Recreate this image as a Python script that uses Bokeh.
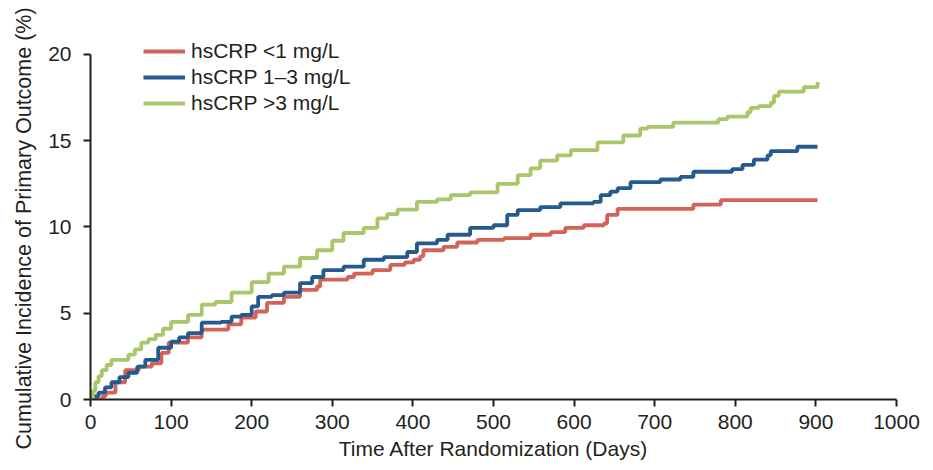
from bokeh.plotting import figure
from bokeh.models import Range1d, Legend, LegendItem, FixedTicker, Title
from bokeh.embed import file_html
from bokeh.resources import INLINE

# ---- data ----
series_names = ["hsCRP <1 mg/L", "hsCRP 1\u20133 mg/L", "hsCRP >3 mg/L"]

low_t = [0, 15, 19, 31, 43, 60, 76, 88, 97, 121, 138, 171, 187, 205, 219, 240, 260, 281, 285, 319,
         327, 350, 372, 390, 401, 409, 413, 438, 455, 480, 513, 546, 571, 589, 612, 637, 641, 654,
         748, 782, 902]
low_v = [0, 0.2, 0.4, 1.0, 1.7, 1.9, 2.1, 2.7, 3.3, 3.6, 4.05, 4.35, 4.75, 5.1, 5.6, 5.95, 6.35,
         6.55, 6.95, 7.1, 7.3, 7.5, 7.8, 7.95, 8.1, 8.3, 8.65, 8.85, 9.1, 9.25, 9.35, 9.55, 9.7,
         9.95, 10.1, 10.2, 10.7, 11.05, 11.3, 11.55, 11.55]

mid_t = [0, 4, 10, 18, 26, 36, 47, 58, 68, 84, 100, 110, 121, 138, 162, 175, 187, 200, 208, 225,
         240, 260, 275, 289, 314, 339, 364, 393, 405, 430, 443, 471, 500, 517, 530, 558, 583, 624,
         633, 645, 654, 670, 707, 732, 748, 796, 809, 823, 840, 844, 877, 902]
mid_v = [0, 0.2, 0.4, 0.7, 1.0, 1.3, 1.55, 1.9, 2.3, 3.0, 3.35, 3.6, 3.85, 4.45, 4.5, 4.8, 4.9,
         5.4, 5.95, 6.05, 6.2, 6.75, 7.1, 7.5, 7.7, 8.1, 8.25, 8.55, 9.05, 9.25, 9.55, 9.95, 10.1,
         10.7, 10.98, 11.15, 11.37, 11.45, 11.85, 12.05, 12.25, 12.6, 12.75, 12.9, 13.2, 13.35,
         13.6, 13.9, 14.15, 14.4, 14.65, 14.65]

high_t = [0, 3, 6, 10, 14, 20, 26, 47, 55, 63, 72, 81, 90, 100, 121, 138, 155, 175, 200, 221, 240,
          260, 281, 300, 314, 339, 356, 368, 381, 405, 430, 447, 471, 505, 530, 546, 558, 579, 596,
          629, 661, 682, 691, 723, 779, 790, 815, 819, 829, 844, 848, 854, 885, 902]
high_v = [0, 0.5, 1.0, 1.35, 1.7, 2.0, 2.3, 2.6, 2.9, 3.3, 3.5, 3.75, 4.1, 4.5, 4.9, 5.5, 5.65,
          6.2, 6.8, 7.3, 7.7, 8.2, 8.65, 9.2, 9.65, 9.95, 10.5, 10.75, 11.0, 11.45, 11.6, 11.85,
          12.0, 12.5, 13.0, 13.4, 13.85, 14.15, 14.45, 14.9, 15.3, 15.7, 15.8, 16.05, 16.25, 16.4,
          16.65, 16.9, 17.0, 17.2, 17.6, 17.85, 18.1, 18.4]

x_ticks = [0, 100, 200, 300, 400, 500, 600, 700, 800, 900, 1000]
y_ticks = [0, 5, 10, 15, 20]

x_title = "Time After Randomization (Days)"
y_title = "Cumulative Incidence of Primary Outcome (%)"

colors = ["#d3635a", "#245a8e", "#a9c66a"]

FONT = "Liberation Sans"
TXT = "#231f20"

p = figure(width=925, height=462, output_backend="svg", toolbar_location=None,
           x_range=Range1d(0, 1000), y_range=Range1d(0, 21.387),
           min_border_left=90, min_border_right=29, min_border_top=30, min_border_bottom=62)
p.outline_line_color = None
p.xgrid.visible = False
p.ygrid.visible = False

renderers = []
for t, v, c in zip([low_t, mid_t, high_t], [low_v, mid_v, high_v], colors):
    r = p.step(x=t, y=v, mode="after", line_color=c, line_width=3.8)
    renderers.append(r)

for ax, ticks in ((p.xaxis[0], x_ticks), (p.yaxis[0], y_ticks)):
    ax.ticker = FixedTicker(ticks=ticks)
    ax.axis_line_width = 2
    ax.axis_line_color = TXT
    ax.major_tick_line_width = 2
    ax.major_tick_line_color = TXT
    ax.major_tick_out = 7
    ax.major_tick_in = 0
    ax.minor_tick_line_color = None
    ax.major_label_text_font = FONT
    ax.major_label_text_font_size = "21px"
    ax.major_label_text_color = TXT
    ax.axis_label_text_font = FONT
    ax.axis_label_text_font_size = "21px"
    ax.axis_label_text_font_style = "normal"
    ax.axis_label_text_color = TXT

p.yaxis[0].bounds = (0, 20)
p.xaxis[0].axis_label = x_title
p.xaxis[0].major_label_standoff = 8
p.xaxis[0].axis_label_standoff = 5
p.yaxis[0].major_label_standoff = 12

ytitle = Title(text=y_title, align="left", offset=-50, standoff=19,
               text_font=FONT, text_font_size="21.5px", text_font_style="normal",
               text_color=TXT)
p.add_layout(ytitle, "left")

items = [LegendItem(label=n, renderers=[r]) for n, r in zip(series_names, renderers)]
legend = Legend(items=items, location=(53, 284), padding=0, margin=0, spacing=2,
                glyph_width=42, glyph_height=20, label_height=20, label_standoff=6,
                label_text_font=FONT, label_text_font_size="21px", label_text_color=TXT,
                border_line_color=None, background_fill_alpha=0)
p.add_layout(legend)

open("out.html", "w").write(file_html(p, INLINE))
